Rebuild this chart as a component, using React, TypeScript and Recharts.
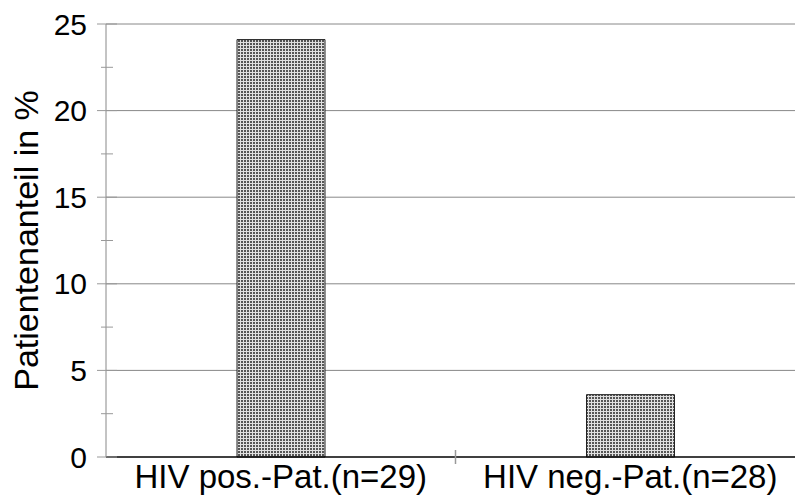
import { BarChart, Bar, XAxis, YAxis, CartesianGrid } from 'recharts';

const categories = ['HIV pos.-Pat.(n=29)', 'HIV neg.-Pat.(n=28)'];
const shares = [24.1, 3.6];
const yTicks = [0, 2.5, 5, 7.5, 10, 12.5, 15, 17.5, 20, 22.5, 25];
const majorTicks = [0, 5, 10, 15, 20, 25];

const data = categories.map((name, i) => ({ name, value: shares[i] }));

const FONT = '"Liberation Sans", Arial, sans-serif';

function YTick(props: any) {
  const { x, y, payload } = props;
  const major = majorTicks.includes(payload.value);
  return (
    <g>
      {major ? (
        <line x1={x - 9} x2={x + 11} y1={y} y2={y} stroke="#999" strokeWidth={1} />
      ) : (
        <line x1={x - 5} x2={x + 7} y1={y} y2={y} stroke="#999" strokeWidth={1} />
      )}
      {major && (
        <text x={x - 19} y={y} dy="0.355em" textAnchor="end" fontSize={30} fontFamily={FONT} fill="#000">
          {payload.value}
        </text>
      )}
    </g>
  );
}

// category label + separator tick at the band boundary after each category (except last)
function XTick(props: any) {
  const { x, y, payload, index, visibleTicksCount } = props;
  const half = payload.offset || 0;
  return (
    <g>
      {index < visibleTicksCount - 1 && half > 0 && (
        <line x1={x + half} x2={x + half} y1={y - 15} y2={y - 1} stroke="#999" strokeWidth={1.5} />
      )}
      <text x={x} y={y} dy="0.71em" textAnchor="middle" fontSize={33} fontFamily={FONT} fill="#000">
        {payload.value}
      </text>
    </g>
  );
}

export default function App() {
  return (
    <div style={{ position: 'absolute', left: 0, top: 0, width: 795, height: 502, overflow: 'hidden', background: '#fff' }}>
      <BarChart width={805} height={502} data={data} margin={{ top: 24, right: 0, left: 0, bottom: 0 }}>
        <defs>
          <pattern id="hatch" width="3" height="3" patternUnits="userSpaceOnUse">
            <rect width="3" height="3" fill="#555" />
            <rect x="0" y="0" width="1" height="3" fill="#e0e0e0" />
            <rect x="0" y="0" width="3" height="1" fill="#e0e0e0" />
          </pattern>
        </defs>
        <CartesianGrid vertical={false} horizontalValues={[5, 10, 15, 20, 25]} stroke="#888" />
        <XAxis
          dataKey="name"
          height={45}
          axisLine={{ stroke: '#000', strokeWidth: 1.5 }}
          tickLine={false}
          tickSize={0}
          tickMargin={8}
          interval={0}
          tick={<XTick />}
        />
        <YAxis
          width={106}
          domain={[0, 25]}
          ticks={yTicks}
          interval={0}
          tickSize={0}
          tickMargin={0}
          tickLine={false}
          axisLine={{ stroke: '#888' }}
          tick={<YTick />}
          label={{
            value: 'Patientenanteil in %',
            angle: -90,
            position: 'insideLeft',
            offset: 26,
            style: { textAnchor: 'middle', fontSize: 34, fontFamily: FONT, fill: '#000' },
          }}
        />
        <Bar dataKey="value" barSize={88} fill="url(#hatch)" stroke="#222" strokeWidth={1} isAnimationActive={false} />
      </BarChart>
    </div>
  );
}
